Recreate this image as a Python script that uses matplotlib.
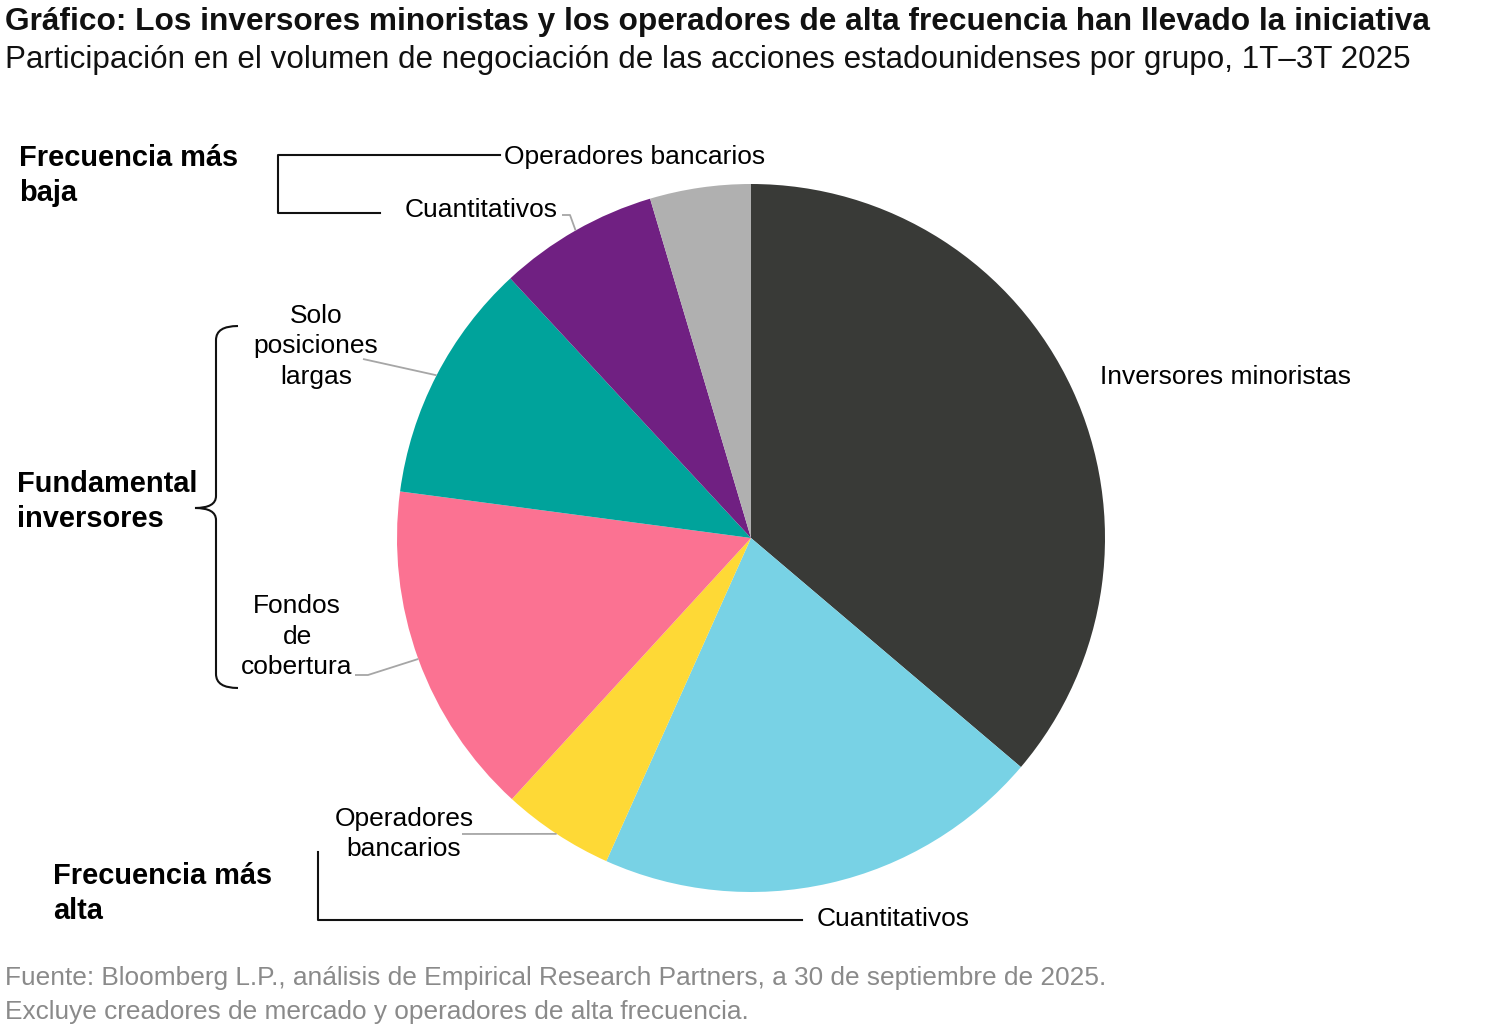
import matplotlib
matplotlib.use("Agg")
import matplotlib.pyplot as plt
import numpy as np
from matplotlib.path import Path
from matplotlib.patches import PathPatch

plt.rcParams['font.family'] = ['Liberation Sans', 'DejaVu Sans']

# ---- data ----
groups = ["Inversores minoristas", "Cuantitativos", "Operadores bancarios",
          "Fondos de cobertura", "Solo posiciones largas", "Cuantitativos",
          "Operadores bancarios"]
shares = [36.2, 20.5, 5.1, 15.3, 11.0, 7.3, 4.6]
colors = ["#393a37", "#78d2e5", "#fed936", "#fb7292", "#00a39b", "#702082", "#b0b0b0"]

title = "Gráfico: Los inversores minoristas y los operadores de alta frecuencia han llevado la iniciativa"
subtitle = "Participación en el volumen de negociación de las acciones estadounidenses por grupo, 1T–3T 2025"
footer = ["Fuente: Bloomberg L.P., análisis de Empirical Research Partners, a 30 de septiembre de 2025.",
          "Excluye creadores de mercado y operadores de alta frecuencia."]

W, H = 1500, 1025
fig = plt.figure(figsize=(W / 100, H / 100), dpi=100)
ax = fig.add_axes([0, 0, 1, 1])

def Y(y):
    return H - y

cx, cy, R = 751, Y(538), 354
wedges, _ = ax.pie(shares, colors=colors, startangle=90, counterclock=False,
                   center=(cx, cy), radius=R,
                   wedgeprops=dict(linewidth=0))
ax.set_xlim(0, W)
ax.set_ylim(0, H)
ax.set_aspect('equal')
ax.axis('off')

def edge_pt(i):
    w = wedges[i]
    a = np.deg2rad((w.theta1 + w.theta2) / 2)
    return cx + R * np.cos(a), cy + R * np.sin(a)

LBL = 19
GRP = 20.9

def lines(x, y0, txt, pitch, ha='center', **kw):
    for k, t in enumerate(txt.split("\n")):
        ax.text(x, Y(y0 + 2 + k * pitch), t, ha=ha, va='center', **kw)

# title / subtitle
lines(5, 20, title, 30, ha='left', fontsize=22.8, fontweight='bold', color='#111111')
lines(5, 58, subtitle, 30, ha='left', fontsize=22.6, color='#111111')

# footer
lines(5, 976, footer[0], 30, ha='left', fontsize=18.9, color='#8a8a8a')
lines(5, 1010, footer[1], 30, ha='left', fontsize=18.9, color='#8a8a8a')

# slice labels
lines(1100, 375, "Inversores minoristas", 30, ha='left', fontsize=LBL)
lines(817, 917, "Cuantitativos", 30, ha='left', fontsize=LBL)
lines(404, 817, "Operadores\nbancarios", 30, fontsize=LBL)
lines(297, 604, "Fondos\nde\ncobertura", 30.5, fontsize=LBL)
lines(316, 314, "Solo\nposiciones\nlargas", 30.5, fontsize=LBL)
lines(405, 208, "Cuantitativos", 30, ha='left', fontsize=LBL)
lines(504, 155, "Operadores bancarios", 30, ha='left', fontsize=LBL)

# group labels
lines(19, 156, "Frecuencia más\nbaja", 35, ha='left', fontsize=GRP, fontweight='bold')
lines(17, 482, "Fundamental\ninversores", 35, ha='left', fontsize=GRP, fontweight='bold')
lines(53, 874, "Frecuencia más\nalta", 35, ha='left', fontsize=GRP, fontweight='bold')

# leader lines (grey)
lc = dict(color='#a6a6a6', lw=1.3, solid_capstyle='butt')
ex, ey = edge_pt(5)
ax.plot([562, 570, ex], [Y(215), Y(215), ey], **lc)
ex, ey = edge_pt(4)
ax.plot([363, ex], [Y(359), ey], **lc)
ex, ey = edge_pt(3)
ax.plot([355, 368, ex], [Y(675), Y(675), ey], **lc)
ex, ey = edge_pt(2)
ax.plot([462, ex], [Y(834), ey], **lc)

# black brackets
bc = dict(color='#111111', lw=1.5)
ax.plot([380, 278, 278, 500], [Y(213), Y(213), Y(155), Y(155)], **bc)
ax.plot([318, 318, 802], [Y(852), Y(920), Y(920)], **bc)

# curly brace
verts = [(238, Y(326)), (216, Y(326)), (216, Y(340)),
         (216, Y(496)),
         (216, Y(508)), (195, Y(508)),
         (216, Y(508)), (216, Y(520)),
         (216, Y(674)),
         (216, Y(688)), (238, Y(688))]
codes = [Path.MOVETO, Path.CURVE3, Path.CURVE3,
         Path.LINETO,
         Path.CURVE3, Path.CURVE3,
         Path.CURVE3, Path.CURVE3,
         Path.LINETO,
         Path.CURVE3, Path.CURVE3]
ax.add_patch(PathPatch(Path(verts, codes), fill=False, edgecolor='#111111', lw=1.5))

fig.savefig("out.png", dpi=100, facecolor='white')
